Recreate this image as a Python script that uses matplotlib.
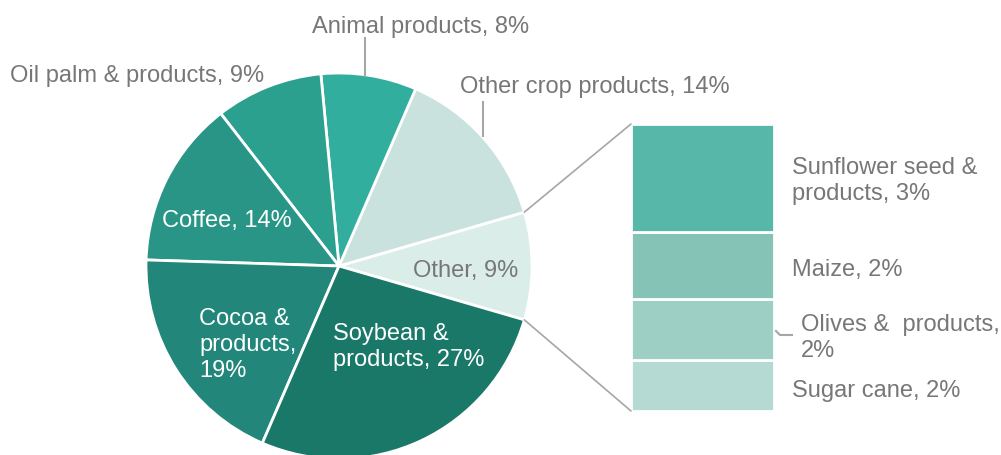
import matplotlib.pyplot as plt
from matplotlib.patches import ConnectionPatch
from matplotlib.lines import Line2D
import numpy as np

plt.rcParams['font.family'] = ['Liberation Sans', 'DejaVu Sans']

# main pie (counter-clockwise from the right)
pie_labels = ['Other', 'Other crop products', 'Animal products', 'Oil palm & products',
              'Coffee', 'Cocoa & products', 'Soybean & products']
pie_values = [9, 14, 8, 9, 14, 19, 27]
pie_colors = ['#dbede9', '#c9e2dd', '#31ae9e', '#2ca08f', '#299586', '#22877a', '#1a7868']

# breakdown of "Other"
bar_labels = ['Sugar cane', 'Olives & products', 'Maize', 'Sunflower seed & products']
bar_values = [1.6, 1.9, 2.1, 3.4]
bar_colors = ['#b5dad3', '#9ecfc4', '#85c3b7', '#57b8aa']

W, H = 1001, 456
fig = plt.figure(figsize=(W / 100, H / 100), dpi=100)

def fx(x):
    return x / W

def fy(y):
    return 1 - y / H

# pie axes: centre (339, 267), radius 193 px
cx, cy, r = 339, 267, 193
ax1 = fig.add_axes([fx(cx - r), fy(cy + r), 2 * r / W, 2 * r / H])
start = -pie_values[0] / 2 * 3.6
wedges, _ = ax1.pie(pie_values, colors=pie_colors, startangle=start, counterclock=True,
                    wedgeprops=dict(edgecolor='white', linewidth=2))
ax1.set_xlim(-1, 1)
ax1.set_ylim(-1, 1)
ax1.axis('off')

# bar axes
bx0, bx1, by0, by1 = 631, 774, 125, 412
ax2 = fig.add_axes([fx(bx0), fy(by1), (bx1 - bx0) / W, (by1 - by0) / H])
bottom = 0
for v, c in zip(bar_values, bar_colors):
    ax2.bar(0, v, width=1, bottom=bottom, color=c, edgecolor='white', linewidth=2)
    bottom += v
ax2.set_xlim(-0.5, 0.5)
ax2.set_ylim(0, sum(bar_values))
ax2.axis('off')

# connectors from the "Other" wedge to the bar
w = wedges[0]
for ang, ybar in [(w.theta2, sum(bar_values)), (w.theta1, 0)]:
    t = np.deg2rad(ang)
    con = ConnectionPatch(xyA=(-0.5, ybar), coordsA=ax2.transData,
                          xyB=(np.cos(t), np.sin(t)), coordsB=ax1.transData,
                          color='#a6a6a6', linewidth=1.2)
    fig.add_artist(con)

gray = '#777777'
fs = 17

# y is the baseline of the last line
def label(x, y, s, color=gray, ls=1.24):
    fig.text(fx(x), fy(y), s, color=color, fontsize=fs, ha='left', va='baseline',
             linespacing=ls)

label(312, 33, 'Animal products, 8%')
label(10, 82, 'Oil palm & products, 9%')
label(460, 93, 'Other crop products, 14%')
label(162, 227, 'Coffee, 14%', color='white')
label(199, 377, 'Cocoa &\nproducts,\n19%', color='white')
label(333, 366, 'Soybean &\nproducts, 27%', color='white')
label(413, 277, 'Other, 9%')
label(792, 200, 'Sunflower seed &\nproducts, 3%')
label(792, 276, 'Maize, 2%')
label(801, 357, 'Olives &  products,\n2%')
label(792, 397, 'Sugar cane, 2%')

# leader lines
for xs, ys in [([365, 365], [39, 77]), ([483, 483], [103, 137]),
               ([776, 780, 792], [332, 336, 336])]:
    fig.add_artist(Line2D([fx(x) for x in xs], [fy(y) for y in ys],
                          color='#a6a6a6', linewidth=1.5))

fig.savefig('out.png', dpi=100)
